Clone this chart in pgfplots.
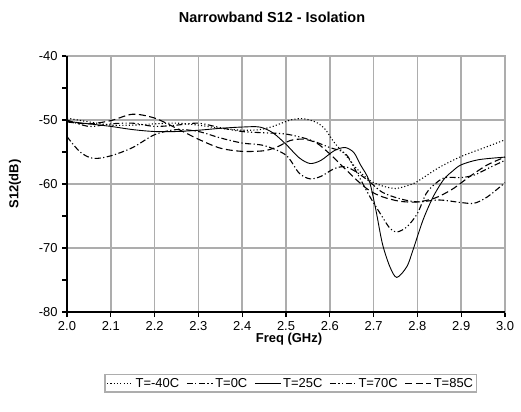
\documentclass[border=0pt]{standalone}
\usepackage{pgfplots}
\pgfplotsset{compat=1.18}
\usepackage{fontspec}
\setmainfont{Liberation Sans}
\begin{document}
\begin{tikzpicture}
\useasboundingbox (-67bp,-100bp) rectangle (454bp,312bp);
\begin{axis}[
  at={(0,0)}, anchor=south west,
  scale only axis, width=438bp, height=256bp,
  xmin=2.0, xmax=3.0, ymin=-80, ymax=-40,
  xtick={2.0,2.1,...,3.0},
  xticklabels={2.0,2.1,2.2,2.3,2.4,2.5,2.6,2.7,2.8,2.9,3.0},
  ytick={-80,-70,-60,-50,-40},
  minor ytick={-75,-65,-55,-45},
  /pgf/number format/assume math mode=true,
  tick label style={font=\fontsize{13}{15}\selectfont},
  xticklabel style={yshift=-1bp},
  yticklabel style={xshift=-1bp},
  grid=major,
  major grid style={draw=black!32, line width=1.5bp},
  axis line style={draw=black!32, line width=1.5bp},
  tick style={black, line width=1.2bp},
  major tick length=5bp, minor tick length=5bp,
  tick align=outside,
  xtick pos=bottom, ytick pos=left,
  clip=false,
  legend columns=5,
  legend style={at={(0.511,-0.242)}, anchor=north, draw=black!32, line width=1.5bp,
    font=\fontsize{13}{15}\selectfont, inner sep=1.5pt,
    /tikz/every even column/.append style={column sep=5bp}},
  legend image code/.code={\draw[#1] (0bp,0bp) -- (26bp,0bp);},
]
\draw[black, line width=1.3bp] (axis cs:2.0,-40) -- (axis cs:2.0,-80) -- (axis cs:3.0,-80);

\addplot[black, line width=1.1pt, smooth, dash pattern=on 1.1pt off 2.2pt] coordinates {
(2.00,-49.7) (2.05,-50.3) (2.10,-50.8) (2.15,-50.8) (2.20,-50.6) (2.25,-50.5)
(2.30,-50.8) (2.35,-51.3) (2.40,-51.6) (2.44,-51.5) (2.47,-51.0) (2.51,-50.0)
(2.54,-49.8) (2.57,-50.4) (2.59,-51.5) (2.61,-53.5) (2.64,-55.8) (2.66,-57.5)
(2.69,-59.4) (2.72,-60.3) (2.75,-60.7) (2.78,-60.2) (2.80,-59.6) (2.85,-57.4)
(2.90,-55.7) (2.95,-54.4) (3.00,-53.1)};
\addlegendentry{T=-40C}

\addplot[black, line width=1.1pt, smooth, dash pattern=on 6pt off 2.5pt on 1.2pt off 2.5pt] coordinates {
(2.00,-52.6) (2.03,-55.0) (2.06,-56.0) (2.10,-55.6) (2.15,-54.3) (2.20,-52.3)
(2.25,-51.5) (2.30,-51.8) (2.35,-52.8) (2.40,-53.6) (2.45,-54.0) (2.50,-55.5)
(2.53,-58.3) (2.555,-59.2) (2.58,-58.8) (2.61,-57.6) (2.635,-57.3) (2.66,-58.1)
(2.69,-59.6) (2.72,-61.3) (2.76,-62.3) (2.80,-62.8) (2.85,-62.5) (2.90,-62.9)
(2.93,-63.0) (2.96,-62.0) (3.00,-59.8)};
\addlegendentry{T=0C}

\addplot[black, line width=0.9pt, smooth] coordinates {
(2.00,-50.2) (2.05,-50.6) (2.10,-51.0) (2.15,-51.5) (2.20,-51.8) (2.25,-51.8)
(2.30,-51.6) (2.35,-51.3) (2.40,-51.1) (2.44,-51.1) (2.47,-52.0) (2.50,-53.8)
(2.53,-55.9) (2.555,-56.8) (2.58,-56.3) (2.61,-54.8) (2.635,-54.3) (2.655,-55.1)
(2.67,-57.0) (2.69,-59.5) (2.705,-64.0) (2.72,-69.3) (2.737,-72.9) (2.753,-74.6)
(2.776,-72.9) (2.79,-70.3) (2.813,-65.6) (2.836,-62.0) (2.86,-59.3) (2.88,-58.0)
(2.90,-57.0) (2.94,-56.2) (3.00,-55.8)};
\addlegendentry{T=25C}

\addplot[black, line width=1.1pt, smooth, dash pattern=on 6pt off 2.5pt on 1.2pt off 2.5pt on 1.2pt off 2.5pt] coordinates {
(2.00,-50.0) (2.05,-51.0) (2.10,-50.6) (2.15,-50.5) (2.20,-51.0) (2.25,-50.8)
(2.30,-50.5) (2.35,-51.2) (2.40,-51.8) (2.45,-52.0) (2.50,-52.2) (2.55,-53.0)
(2.60,-54.3) (2.635,-55.2) (2.66,-58.0) (2.69,-61.8) (2.715,-64.6) (2.737,-66.9)
(2.753,-67.5) (2.776,-66.7) (2.80,-64.6) (2.82,-61.5) (2.84,-60.0) (2.863,-59.0)
(2.90,-59.0) (2.93,-58.6) (2.96,-57.6) (3.00,-56.3)};
\addlegendentry{T=70C}

\addplot[black, line width=1.1pt, smooth, dash pattern=on 7pt off 3.5pt] coordinates {
(2.00,-50.3) (2.05,-50.6) (2.10,-50.1) (2.15,-49.1) (2.20,-49.7) (2.25,-51.3)
(2.30,-53.0) (2.35,-54.4) (2.40,-54.9) (2.45,-54.8) (2.48,-54.2) (2.51,-53.2)
(2.54,-53.0) (2.57,-53.6) (2.60,-55.3) (2.63,-57.3) (2.66,-59.3) (2.69,-61.0)
(2.72,-62.0) (2.76,-62.7) (2.80,-62.8) (2.84,-62.2) (2.88,-60.8) (2.92,-58.8)
(2.96,-57.0) (3.00,-55.8)};
\addlegendentry{T=85C}
\end{axis}
\node[font=\bfseries\fontsize{14.5}{17}\selectfont] at (205bp,295bp) {Narrowband S12 - Isolation};
\node[font=\bfseries\fontsize{13}{15}\selectfont, rotate=90] at (-52bp,128bp) {S12(dB)};
\node[font=\bfseries\fontsize{13}{15}\selectfont] at (222bp,-27bp) {Freq (GHz)};
\end{tikzpicture}
\end{document}
